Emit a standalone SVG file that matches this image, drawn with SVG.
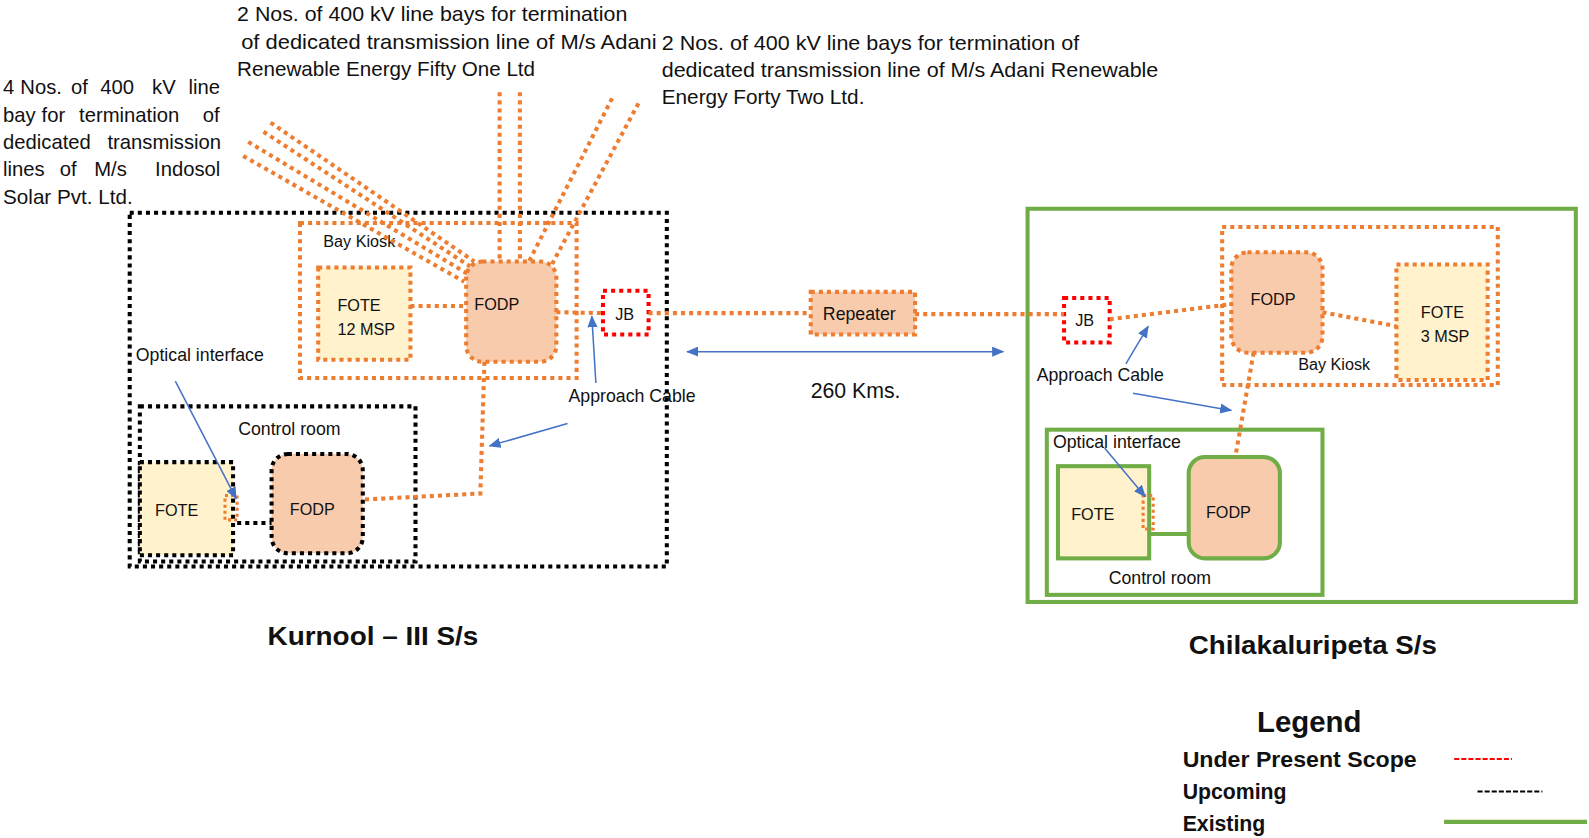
<svg xmlns="http://www.w3.org/2000/svg" width="1589" height="838" viewBox="0 0 1589 838">
<style>
text{font-family:"Liberation Sans",Arial,sans-serif;fill:#111}
.t{font-size:20px}
.s{font-size:16px}
.m{font-size:17.5px}
.b{font-weight:bold}
.or{fill:none;stroke:#ed7d31;stroke-width:4;stroke-dasharray:4 4}
.blk{fill:none;stroke:#000;stroke-width:4;stroke-dasharray:4 4}
.red{fill:none;stroke:#ff0000;stroke-width:4;stroke-dasharray:4 4}
.grn{fill:none;stroke:#70ad47;stroke-width:4}
.blue{fill:none;stroke:#4472c4;stroke-width:1.5}
.peach{fill:#f8cbad}
.yel{fill:#fff2cc}
</style>
<defs>
<marker id="ah" markerWidth="12" markerHeight="10" refX="11" refY="5" orient="auto" markerUnits="userSpaceOnUse">
<path d="M0,0 L12,5 L0,10 z" fill="#4472c4"/>
</marker>
<marker id="ahs" markerWidth="12" markerHeight="10" refX="1" refY="5" orient="auto" markerUnits="userSpaceOnUse">
<path d="M12,0 L0,5 L12,10 z" fill="#4472c4"/>
</marker>
</defs>
<g id="diagram" transform="scale(1.01339)">

<!-- Top texts -->
<g id="txt-adani51">
<text class="t" x="234" y="21" textLength="385" lengthAdjust="spacingAndGlyphs">2 Nos. of 400 kV line bays for termination</text>
<text class="t" x="238" y="48" textLength="410" lengthAdjust="spacingAndGlyphs">of dedicated transmission line of M/s Adani</text>
<text class="t" x="234" y="75" textLength="294" lengthAdjust="spacingAndGlyphs">Renewable Energy Fifty One Ltd</text>
</g>
<g id="txt-adani42">
<text class="t" x="653" y="49" textLength="412" lengthAdjust="spacingAndGlyphs">2 Nos. of 400 kV line bays for termination of</text>
<text class="t" x="653" y="76" textLength="490" lengthAdjust="spacingAndGlyphs">dedicated transmission line of M/s Adani Renewable</text>
<text class="t" x="653" y="103" textLength="200" lengthAdjust="spacingAndGlyphs">Energy Forty Two Ltd.</text>
</g>
<g id="txt-indosol">
<text class="t" y="93"><tspan x="3">4</tspan><tspan x="20">Nos.</tspan><tspan x="70">of</tspan><tspan x="99">400</tspan><tspan x="150">kV</tspan><tspan x="186">line</tspan></text>
<text class="t" y="120"><tspan x="3">bay</tspan><tspan x="41">for</tspan><tspan x="78">termination</tspan><tspan x="200">of</tspan></text>
<text class="t" y="147"><tspan x="3">dedicated</tspan><tspan x="106">transmission</tspan></text>
<text class="t" y="174"><tspan x="3">lines</tspan><tspan x="59">of</tspan><tspan x="93">M/s</tspan><tspan x="153">Indosol</tspan></text>
<text class="t" x="3" y="201" textLength="128" lengthAdjust="spacingAndGlyphs">Solar Pvt. Ltd.</text>
</g>

<!-- Kurnool substation -->
<g id="kurnool-ss">
<rect class="blk" x="128" y="210" width="530" height="349"/>
</g>
<g id="kurnool-baykiosk">
<rect class="or" x="296" y="220" width="273" height="153"/>
<text class="s" x="319" y="244">Bay Kiosk</text>
</g>
<g id="kurnool-control-room">
<rect class="blk" x="138" y="401" width="272" height="153"/>
<text class="m" x="235" y="429">Control room</text>
</g>
<g id="kurnool-fote12">
<rect class="or yel" x="314" y="264" width="91" height="91"/>
<text class="s" x="333" y="307">FOTE</text>
<text class="s" x="333" y="331">12 MSP</text>
</g>
<g id="kurnool-fodp-bay">
<rect class="or peach" x="460" y="258" width="89" height="99" rx="16"/>
<text class="s" x="468" y="306">FODP</text>
</g>
<g id="kurnool-jb">
<rect class="red" x="595" y="287" width="45" height="43"/>
<text class="s" x="607" y="316">JB</text>
</g>
<g id="kurnool-fote">
<rect class="blk yel" x="138" y="456" width="92" height="92"/>
<text class="s" x="153" y="509">FOTE</text>
</g>
<g id="kurnool-fodp-cr">
<rect class="blk peach" x="268" y="448" width="90" height="98" rx="16"/>
<text class="s" x="286" y="508">FODP</text>
</g>
<g id="kurnool-optical">
<rect class="or" x="222" y="489" width="12" height="24" style="stroke-width:3;stroke-dasharray:3 3"/>
</g>
<g id="kurnool-title">
<text class="b" x="264" y="636" style="font-size:25px" textLength="208" lengthAdjust="spacingAndGlyphs">Kurnool – III  S/s</text>
</g>

<!-- Repeater -->
<g id="repeater">
<rect class="or peach" x="800" y="288" width="103" height="42"/>
<text class="m" x="812" y="316">Repeater</text>
</g>

<!-- Chilakaluripeta substation -->
<g id="chil-ss">
<rect class="grn" x="1014" y="206" width="541" height="388"/>
</g>
<g id="chil-baykiosk">
<rect class="or" x="1206" y="224" width="272" height="156"/>
<text class="s" x="1281" y="365">Bay Kiosk</text>
</g>
<g id="chil-fodp-bay">
<rect class="or peach" x="1215" y="249" width="90" height="99" rx="16"/>
<text class="s" x="1234" y="301">FODP</text>
</g>
<g id="chil-fote3">
<rect class="or yel" x="1378" y="261" width="90" height="114"/>
<text class="s" x="1402" y="314">FOTE</text>
<text class="s" x="1402" y="337">3 MSP</text>
</g>
<g id="chil-jb">
<rect class="red" x="1050" y="294" width="45" height="44"/>
<text class="s" x="1061" y="322">JB</text>
</g>
<g id="chil-control-room">
<rect class="grn" x="1033" y="424" width="272" height="163"/>
<text class="m" x="1094" y="576">Control room</text>
</g>
<g id="chil-fote">
<rect class="grn yel" x="1044" y="460" width="90" height="91"/>
<text class="s" x="1057" y="513">FOTE</text>
</g>
<g id="chil-fodp-cr">
<rect class="grn peach" x="1173" y="451" width="90" height="100" rx="16"/>
<text class="s" x="1190" y="511">FODP</text>
</g>
<g id="chil-optical">
<rect class="or" x="1128" y="489" width="10" height="33" style="stroke-width:3;stroke-dasharray:3 3"/>
</g>
<g id="chil-title">
<text class="b" x="1173" y="645" style="font-size:25px" textLength="245" lengthAdjust="spacingAndGlyphs">Chilakaluripeta  S/s</text>
</g>

<!-- Connectors -->
<g id="connectors">
<line class="or" x1="240" y1="154" x2="458" y2="278"/>
<line class="or" x1="245" y1="140" x2="461" y2="270"/>
<line class="or" x1="260" y1="130" x2="464" y2="263"/>
<line class="or" x1="267" y1="121" x2="468" y2="258"/>
<line class="or" x1="493" y1="91" x2="493" y2="258"/>
<line class="or" x1="513" y1="91" x2="513" y2="258"/>
<line class="or" x1="604" y1="97" x2="522" y2="258"/>
<line class="or" x1="630" y1="102" x2="544" y2="262"/>
<line class="or" x1="405" y1="302" x2="460" y2="302"/>
<line class="or" x1="549" y1="308" x2="595" y2="309"/>
<polyline class="or" points="478,357 474,487 358,493"/>
<line class="blk" x1="234" y1="516" x2="268" y2="516"/>
<line class="or" x1="640" y1="309" x2="800" y2="309"/>
<line class="or" x1="903" y1="310" x2="1050" y2="310"/>
<line class="or" x1="1095" y1="315" x2="1215" y2="300"/>
<line class="or" x1="1305" y1="308" x2="1378" y2="322"/>
<line class="or" x1="1237" y1="348" x2="1219" y2="451"/>
<line class="grn" x1="1134" y1="527" x2="1173" y2="527"/>
</g>

<!-- Annotations -->
<g id="annotations">
<text class="m" x="134" y="356">Optical interface</text>
<line class="blue" x1="173" y1="376" x2="233" y2="492" marker-end="url(#ah)"/>
<text class="m" x="561" y="397">Approach Cable</text>
<line class="blue" x1="588" y1="378" x2="584" y2="312" marker-end="url(#ah)"/>
<line class="blue" x1="560" y1="418" x2="483" y2="440" marker-end="url(#ah)"/>
<line class="blue" x1="678" y1="347" x2="990" y2="347" marker-start="url(#ahs)" marker-end="url(#ah)"/>
<text x="800" y="393" style="font-size:21px">260 Kms.</text>
<text class="m" x="1023" y="376">Approach Cable</text>
<line class="blue" x1="1111" y1="359" x2="1133" y2="322" marker-end="url(#ah)"/>
<line class="blue" x1="1118" y1="388" x2="1215" y2="405" marker-end="url(#ah)"/>
<text class="m" x="1039" y="442">Optical interface</text>
<line class="blue" x1="1090" y1="442" x2="1130" y2="490" marker-end="url(#ah)"/>
</g>

<!-- Legend -->
<g id="legend">
<text class="b" x="1292" y="722" text-anchor="middle" style="font-size:29px">Legend</text>
<text class="b" x="1167" y="757" style="font-size:21px" textLength="231" lengthAdjust="spacingAndGlyphs">Under Present Scope</text>
<text class="b" x="1167" y="788" style="font-size:21px">Upcoming</text>
<text class="b" x="1167" y="820" style="font-size:21px">Existing</text>
<line x1="1435" y1="749" x2="1492" y2="749" stroke="#ff0000" stroke-width="2" stroke-dasharray="5 2"/>
<line x1="1458" y1="781" x2="1522" y2="781" stroke="#000" stroke-width="2" stroke-dasharray="5 2"/>
<line x1="1425" y1="811" x2="1566" y2="811" stroke="#70ad47" stroke-width="4"/>
</g>
</g>
</svg>
